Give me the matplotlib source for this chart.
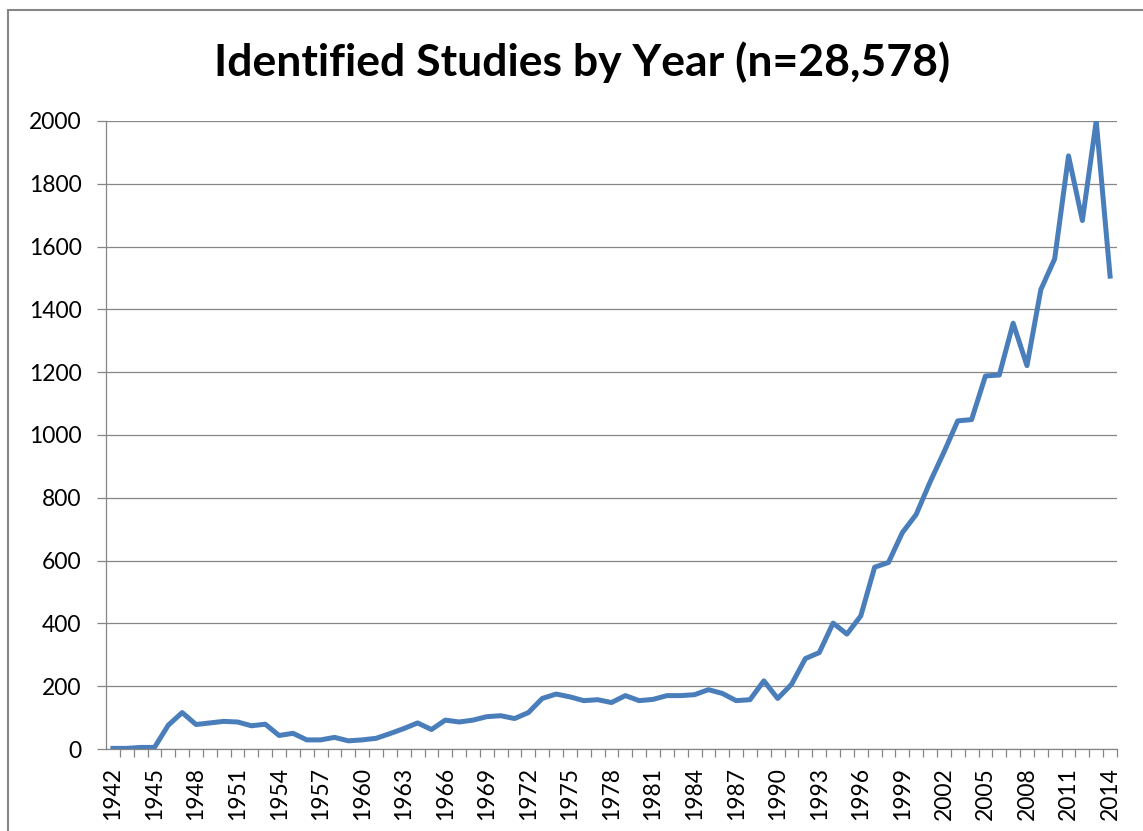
import matplotlib.pyplot as plt
from matplotlib.patches import Rectangle

years = list(range(1942, 2015))
studies = [2, 2, 5, 5, 76, 116, 78, 83, 88, 86,
           74, 79, 43, 50, 29, 29, 37, 26, 29, 34,
           49, 65, 83, 62, 92, 86, 92, 103, 106, 97,
           116, 161, 175, 166, 154, 157, 148, 170, 154, 158,
           170, 170, 173, 189, 177, 154, 157, 217, 161, 206,
           288, 307, 401, 366, 424, 579, 594, 689, 747, 850,
           945, 1045, 1049, 1188, 1191, 1356, 1221, 1463, 1561, 1889,
           1683, 2000, 1506]
title = "Identified Studies by Year (n=28,578)"

grid_gray = "#868686"
line_blue = "#4A7EBB"
font = ["Lato", "DejaVu Sans"]

fig = plt.figure(figsize=(11.43, 8.31), dpi=100)
ax = fig.add_axes([106 / 1143, 82 / 831, 1011 / 1143, 628 / 831])

pos = list(range(len(years)))
ax.plot(pos, studies, color=line_blue, linewidth=3.6, solid_joinstyle="round")

ax.set_xlim(-0.5, len(years) - 0.5)
ax.set_ylim(0, 2000)
ax.set_yticks(range(0, 2001, 200))
ax.yaxis.grid(True, color=grid_gray, linewidth=0.9)
ax.set_axisbelow(True)

ax.set_xticks(pos[::3])
ax.set_xticklabels([str(y) for y in years[::3]], rotation=90, family=font, fontsize=16.5)
ax.set_xticks([p + 0.5 for p in pos], minor=True)
ax.tick_params(axis="x", which="major", length=0, pad=13)
ax.tick_params(axis="x", which="minor", length=6, color=grid_gray, width=0.9)
ax.tick_params(axis="y", length=6.5, color=grid_gray, width=0.9, pad=11, labelsize=16.5)
for lab in ax.get_yticklabels():
    lab.set_family(font)

for side in ["top", "right"]:
    ax.spines[side].set_visible(False)
for side in ["left", "bottom"]:
    ax.spines[side].set_color(grid_gray)
    ax.spines[side].set_linewidth(0.9)

fig.text(582 / 1143, 1 - 62 / 831, title, ha="center", va="center",
         fontsize=32, fontweight="bold", family=font)

# chart border
fig.patches.append(Rectangle((8 / 1143, -0.1), 1.2, 1.1 - 10 / 831,
                             transform=fig.transFigure, fill=False,
                             edgecolor=grid_gray, linewidth=1.5))

fig.savefig("out.png", dpi=100)
